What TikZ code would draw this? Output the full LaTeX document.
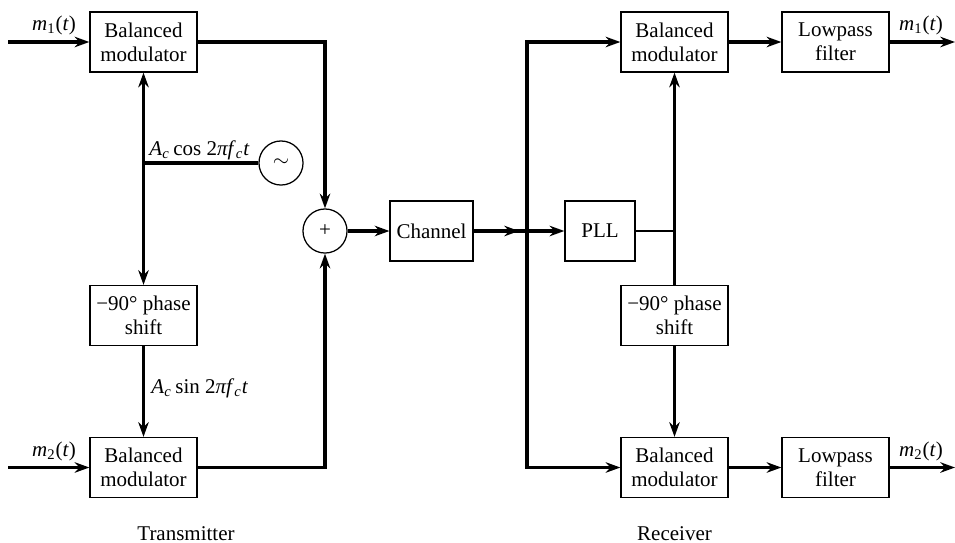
\documentclass[tikz,border=0pt]{standalone}
\usepackage{fontspec}
\setmainfont{Liberation Serif}
\usepackage{tikz}
\usetikzlibrary{positioning, arrows.meta, calc}
\tikzset{
  blk/.style={
    draw, line width=0.6pt, minimum width=51pt, minimum height=28.6pt,
    inner sep=1pt, align=center, font=\fontsize{10}{11.5}\selectfont
  },
  circ/.style={circle, draw, line width=0.6pt, minimum size=21pt, inner sep=0pt},
  wire/.style={line width=1.6pt},
  sig/.style={wire, -{Stealth[length=7pt, width=5pt]}},
  lbl/.style={font=\fontsize{10}{12}\selectfont, inner sep=0pt},
}

\begin{document}
\begin{tikzpicture}[x=0.4765pt, y=-0.4765pt]
  \useasboundingbox (0,0) rectangle (955,542);

  %% ── transmitter blocks ──
  \node[blk]  (M1)  at (143.5,42)    {Balanced\\modulator};
  \node[blk]  (PS1) at (143.5,315.5) {−90° phase\\shift};
  \node[blk]  (M2)  at (143.5,467.5) {Balanced\\modulator};
  \node[circ] (OSC) at (281,163)     {$\sim$};
  \node[circ] (SUM) at (325,231)     {+};
  \node[blk, minimum width=39.5pt] (CH) at (431.5,231) {Channel};

  %% ── receiver blocks ──
  \node[blk, minimum width=33.4pt] (PLL) at (600,231) {PLL};
  \node[blk] (RM1) at (674.5,42)    {Balanced\\modulator};
  \node[blk] (RPS) at (674.5,315.5) {−90° phase\\shift};
  \node[blk] (RM2) at (674.5,467.5) {Balanced\\modulator};
  \node[blk] (LP1) at (835.5,42)    {Lowpass\\filter};
  \node[blk] (LP2) at (835.5,467.5) {Lowpass\\filter};

  %% ── free ends and junctions ──
  \coordinate (in1)  at (8,42);
  \coordinate (in2)  at (8,467.5);
  \coordinate (osc)  at (143.5,163);
  \coordinate (J)    at (527,231);
  \coordinate (Jin)  at (519,231);
  \coordinate (P)    at (674.5,231);
  \coordinate (out1) at (955,42);
  \coordinate (out2) at (955,467.5);

  %% ── transmitter connections ──
  \draw[sig]  (in1) -- (M1);
  \draw[sig]  (in2) -- (M2);
  \draw[wire] (OSC) -- (osc);
  \draw[sig]  (osc) -- (M1);
  \draw[sig]  (osc) -- (PS1);
  \draw[sig]  (PS1) -- (M2);
  \draw[sig]  (M1) -| (SUM);
  \draw[sig]  (M2) -| (SUM);
  \draw[sig]  (SUM) -- (CH);

  %% ── receiver connections ──
  \draw[wire] (CH) -- (J);
  \draw[sig]  (CH) -- (Jin);
  \draw[sig]  (J) -- (PLL);
  \draw[sig]  (J) |- (RM1);
  \draw[sig]  (J) |- (RM2);
  \draw[line width=1.1pt] (PLL) -- (P);
  \draw[sig]  (P) -- (RM1);
  \draw[wire] (P) -- (RPS);
  \draw[sig]  (RPS) -- (RM2);
  \draw[sig]  (RM1) -- (LP1);
  \draw[sig]  (RM2) -- (LP2);
  \draw[sig]  (LP1) -- (out1);
  \draw[sig]  (LP2) -- (out2);

  %% ── labels ──
  \node[lbl, anchor=base] (m1in)  at (54,30)  {\textit{m}\textsubscript{1}(\textit{t})};
  \node[lbl, anchor=base] (m2in)  at (54,456) {\textit{m}\textsubscript{2}(\textit{t})};
  \node[lbl, anchor=base] (m1out) at (921,30)  {\textit{m}\textsubscript{1}(\textit{t})};
  \node[lbl, anchor=base] (m2out) at (921,456) {\textit{m}\textsubscript{2}(\textit{t})};
  \node[lbl, anchor=base west] (cosl) at (149,155)
    {\textit{A}\textsubscript{\textit{c}}\,cos 2\textit{πf}\textsubscript{\textit{c}}\textit{t}};
  \node[lbl, anchor=base west] (sinl) at (151,393)
    {\textit{A}\textsubscript{\textit{c}}\,sin 2\textit{πf}\textsubscript{\textit{c}}\textit{t}};
  \node[lbl, anchor=base] (TX) at (186,540)   {Transmitter};
  \node[lbl, anchor=base] (RX) at (674.5,540) {Receiver};
\end{tikzpicture}
\end{document}
